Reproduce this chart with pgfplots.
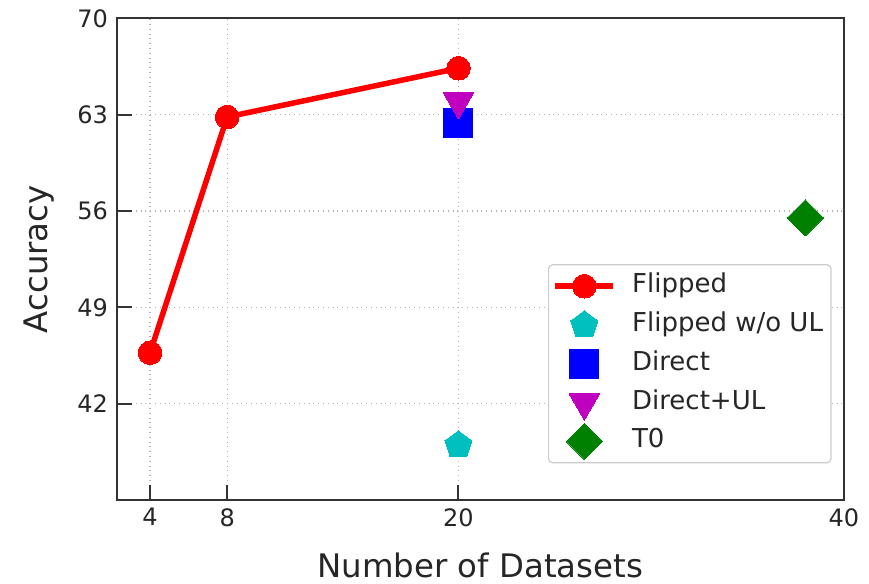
\documentclass[border=0pt]{standalone}
\usepackage{fontspec}
\setmainfont{DejaVu Sans}
\usepackage{pgfplots}
\pgfplotsset{compat=1.18}
\usetikzlibrary{calc}
\definecolor{mc}{rgb}{0,0.75,0.75}
\definecolor{mm}{rgb}{0.75,0,0.75}
\definecolor{mg}{rgb}{0,0.5,0}
\begin{document}
\begin{tikzpicture}
\begin{axis}[
  name=ax,
  scale only axis,
  width=363.65pt, height=240.85pt,
  xmin=2.27, xmax=40, ymin=35, ymax=70,
  xtick={4,8,20,40}, ytick={42,49,56,63,70},
  xtick pos=bottom, ytick pos=left,
  tick align=inside,
  major tick length=7.5pt,
  tick style={line width=1pt, color=black!80},
  axis line style={line width=1pt, color=black!80},
  grid=major,
  grid style={dotted, line width=0.6pt, color=black!30},
  /pgf/number format/assume math mode=true,
  ticklabel style={font=\fontsize{12}{14}\selectfont, color=black!85, inner sep=0pt},
  xticklabel style={yshift=-4pt},
  yticklabel style={xshift=-4.2pt},
  xlabel={Number of Datasets},
  ylabel={Accuracy},
  every axis x label/.style={at={(rel axis cs:0.5,0)}, anchor=base, yshift=-38.5pt,
    font=\fontsize{16.2}{19}\selectfont, text=black!85},
  every axis y label/.style={at={(rel axis cs:0,0.5)}, rotate=90, anchor=base, yshift=34.35pt,
    font=\fontsize{16.2}{19}\selectfont, text=black!85},
  legend cell align=left,
  legend style={
    at={(rel axis cs:1,0)}, anchor=south east, xshift=-6.2pt, yshift=18.3pt,
    font=\fontsize{13}{15}\selectfont, text=black!85,
    draw=black!20, line width=0.6pt, rounded corners=2pt,
    inner xsep=2pt, inner ysep=1pt,
    nodes={text height=9.5pt, text depth=3pt, inner ysep=3.45pt},
    /tikz/every even column/.append style={column sep=0pt},
  },
  legend image code/.code={
    \draw[#1, mark repeat=2, mark phase=2] plot coordinates {(0pt,0pt) (14.5pt,0pt) (29pt,0pt)};
    \path (35pt,0pt);
  },
]
\addplot[red, line width=2.75pt, mark=*, mark size=5.9pt, mark options={solid, line width=0pt}]
  coordinates {(4,45.7) (8,62.83) (20,66.37)};
\addlegendentry{Flipped}
\addplot[only marks, mc, mark=pentagon*, mark size=7.1pt, mark options={line width=0pt}]
  coordinates {(20,39.0)};
\addlegendentry{Flipped w/o UL}
\addplot[only marks, blue, mark=square*, mark size=7.25pt, mark options={line width=0pt}]
  coordinates {(20,62.4)};
\addlegendentry{Direct}
\addplot[only marks, mm, mark=triangle*, mark size=8.7pt, mark options={rotate=180, line width=0pt}]
  coordinates {(20,63.95)};
\addlegendentry{Direct+UL}
\addplot[only marks, mg, mark=square*, mark size=6.4pt, mark options={rotate=45, line width=0pt}]
  coordinates {(38,55.5)};
\addlegendentry{T0}
\end{axis}
\pgfresetboundingbox
\path ($(ax.south west)+(-58.35pt,-42pt)$) rectangle ($(ax.north east)+(12.5pt,9.15pt)$);
\end{tikzpicture}
\end{document}
